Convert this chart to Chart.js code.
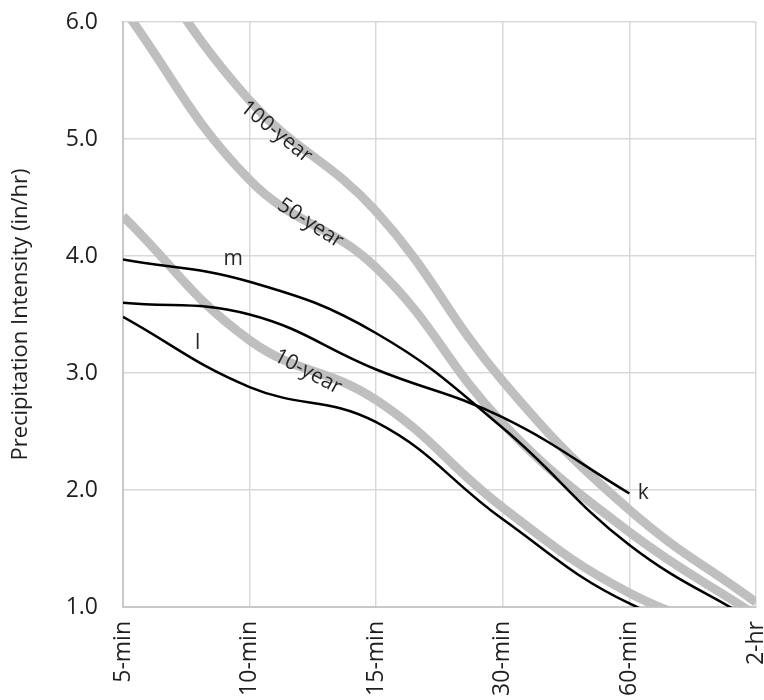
<!DOCTYPE html>
<html>
<head>
<meta charset="utf-8">
<title>IDF curves</title>
<script src="https://cdn.jsdelivr.net/npm/chart.js@4/dist/chart.umd.min.js"></script>
<style>
  html, body { margin: 0; padding: 0; background: #fff; }
  #wrap { width: 764px; height: 700px; }
</style>
</head>
<body>
<div id="wrap"><canvas id="idfChart" width="764" height="700"></canvas></div>
<script>
// ── Data ──────────────────────────────────────
const durations = ['5-min', '10-min', '15-min', '30-min', '60-min', '2-hr'];
const yTicks    = [1, 2, 3, 4, 5, 6];

// return-period curves (grey)
const year100 = [6.80, 5.33, 4.38, 2.93, 1.83, 1.04];
const year50  = [6.12, 4.65, 3.90, 2.57, 1.64, 0.93];
const year10  = [4.34, 3.28, 2.77, 1.85, 1.12, 0.72];

// observed curves (black)
const curveM = [3.97, 3.78, 3.34, 2.53, 1.53, 0.87];
const curveK = [3.60, 3.50, 3.03, 2.62, 1.97, null];
const curveL = [3.48, 2.88, 2.58, 1.75, 1.03, 0.70];

// in-plot labels, placed in data units (category index, in/hr)
const curveLabels = [
  { text: '100-year', x: 1.21, y: 5.06, angle: 39 },
  { text: '50-year',  x: 1.48, y: 4.28, angle: 33 },
  { text: '10-year',  x: 1.46, y: 3.01, angle: 28 },
  { text: 'm',        x: 0.87, y: 3.97, angle: 0 },
  { text: 'l',        x: 0.59, y: 3.26, angle: 0 },
  { text: 'k',        x: 4.11, y: 1.97, angle: 0 },
];

// ── Styles ────────────────────────────────────
const GREY  = '#bfbfbf';
const BLACK = '#000000';
const TEXT  = '#1f1f1f';

Chart.defaults.font.family = "'Open Sans', 'Liberation Sans', sans-serif";
Chart.defaults.color = TEXT;

function greyLine(data) {
  return { data, borderColor: GREY, borderWidth: 9, order: 1, clip: 0 };
}
function blackLine(data) {
  return { data, borderColor: BLACK, borderWidth: 2.5, order: 0, clip: 0 };
}

// labels drawn on top of the curves
const labelPlugin = {
  id: 'curveLabels',
  afterDatasetsDraw(chart) {
    const { ctx, scales: { x, y } } = chart;
    ctx.save();
    ctx.fillStyle = '#262626';
    ctx.font = "21px 'Open Sans', sans-serif";
    ctx.textAlign = 'center';
    ctx.textBaseline = 'middle';
    curveLabels.forEach(l => {
      ctx.save();
      ctx.translate(x.getPixelForValue(l.x), y.getPixelForValue(l.y));
      ctx.rotate(l.angle * Math.PI / 180);
      ctx.fillText(l.text, 0, 0);
      ctx.restore();
    });
    ctx.restore();
  }
};

new Chart(document.getElementById('idfChart'), {
  type: 'line',
  data: {
    labels: durations,
    datasets: [
      greyLine(year100), greyLine(year50), greyLine(year10),
      blackLine(curveM), blackLine(curveK), blackLine(curveL),
    ]
  },
  options: {
    responsive: false,
    animation: false,
    layout: { padding: { left: 0, top: 22, right: 8, bottom: 0 } },
    elements: {
      point: { radius: 0, hoverRadius: 0 },
      line: { tension: 0.42, capBezierPoints: false, borderCapStyle: 'butt' }
    },
    plugins: { legend: { display: false }, tooltip: { enabled: false } },
    scales: {
      x: {
        offset: false,
        grid: { color: '#d9d9d9', lineWidth: 1.5, drawTicks: false },
        border: { color: '#c8c8c8', width: 2 },
        ticks: {
          minRotation: 90, maxRotation: 90, padding: 14,
          font: { size: 23 }, color: TEXT
        },
        afterFit(s) { s.height = 93; s.paddingLeft = 0; s.paddingRight = 0; }
      },
      y: {
        min: 1, max: 6,
        afterBuildTicks(s) { s.ticks = yTicks.map(v => ({ value: v })); },
        grid: { color: '#d9d9d9', lineWidth: 1.5, drawTicks: false },
        border: { color: '#c8c8c8', width: 2 },
        ticks: {
          padding: 25, font: { size: 23 }, color: TEXT,
          callback: v => Number(v).toFixed(1)
        },
        title: {
          display: true, text: 'Precipitation Intensity (in/hr)',
          font: { size: 22 }, color: TEXT, padding: { top: 8, bottom: 4 }
        },
        afterFit(s) { s.width = 123; s.paddingTop = 0; s.paddingBottom = 0; }
      }
    }
  },
  plugins: [labelPlugin]
});
</script>
</body>
</html>
